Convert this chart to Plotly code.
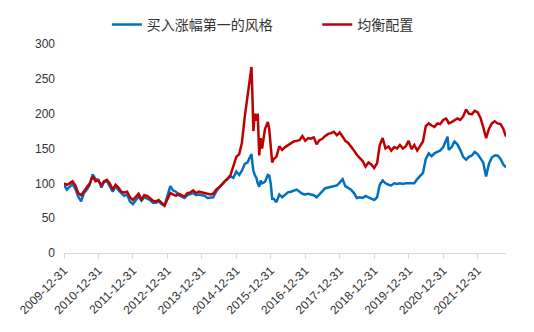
import plotly.graph_objects as go

# Month-end observation dates (with a few mid-month points through the 2015 swing)
dates = [
    "2009-12-31",
    "2010-01-31", "2010-02-28", "2010-03-31", "2010-04-30", "2010-05-31", "2010-06-30",
    "2010-07-31", "2010-08-31", "2010-09-30", "2010-10-31", "2010-11-30", "2010-12-31",
    "2011-01-31", "2011-02-28", "2011-03-31", "2011-04-30", "2011-05-31", "2011-06-30",
    "2011-07-31", "2011-08-31", "2011-09-30", "2011-10-31", "2011-11-30", "2011-12-31",
    "2012-01-31", "2012-02-29", "2012-03-31", "2012-04-30", "2012-05-31", "2012-06-30",
    "2012-07-31", "2012-08-31", "2012-09-30", "2012-10-31", "2012-11-30", "2012-12-31",
    "2013-01-31", "2013-02-28", "2013-03-31", "2013-04-30", "2013-05-31", "2013-06-30",
    "2013-07-31", "2013-08-31", "2013-09-30", "2013-10-31", "2013-11-30", "2013-12-31",
    "2014-01-31", "2014-02-28", "2014-03-31", "2014-04-30", "2014-05-31", "2014-06-30",
    "2014-07-31", "2014-08-31", "2014-09-30", "2014-10-31", "2014-11-30", "2014-12-31",
    "2015-01-31", "2015-02-28", "2015-03-31", "2015-04-30", "2015-05-15", "2015-05-31",
    "2015-06-10", "2015-06-20", "2015-06-30", "2015-07-15", "2015-07-31", "2015-08-15",
    "2015-08-31", "2015-09-15", "2015-09-30", "2015-10-31", "2015-11-30", "2015-12-15",
    "2015-12-31", "2016-01-15",
    "2016-01-31", "2016-02-29", "2016-03-31", "2016-04-30", "2016-05-31", "2016-06-30",
    "2016-07-31", "2016-08-31", "2016-09-30", "2016-10-31", "2016-11-30", "2016-12-31",
    "2017-01-31", "2017-02-28", "2017-03-31", "2017-04-30", "2017-05-31", "2017-06-30",
    "2017-07-31", "2017-08-31", "2017-09-30", "2017-10-31", "2017-11-30", "2017-12-31",
    "2018-01-31", "2018-02-28", "2018-03-31", "2018-04-30", "2018-05-31", "2018-06-30",
    "2018-07-31", "2018-08-31", "2018-09-30", "2018-10-31", "2018-11-30", "2018-12-31",
    "2019-01-31", "2019-02-28", "2019-03-31", "2019-04-30", "2019-05-31", "2019-06-30",
    "2019-07-31", "2019-08-31", "2019-09-30", "2019-10-31", "2019-11-30", "2019-12-31",
    "2020-01-31", "2020-02-29", "2020-03-31", "2020-04-30", "2020-05-31", "2020-06-30",
    "2020-07-31", "2020-08-31", "2020-09-30", "2020-10-31", "2020-11-30", "2020-12-31",
    "2021-01-31", "2021-02-15", "2021-02-28", "2021-03-31", "2021-04-30", "2021-05-31",
    "2021-06-30", "2021-07-31", "2021-08-31", "2021-09-30", "2021-10-31", "2021-11-30",
    "2021-12-31",
    "2022-01-31", "2022-02-28", "2022-03-31", "2022-04-30", "2022-05-31", "2022-06-30",
    "2022-07-31", "2022-08-31", "2022-09-30", "2022-10-28",
]

# 买入涨幅第一的风格 (net value index)
momentum_style = [
    98,
    91, 95, 99, 92, 81, 74, 86, 91, 98, 113, 106, 105,
    94, 102, 103, 96, 88, 96, 90, 86, 82, 84, 74, 70,
    76, 81, 75, 80, 78, 76, 72, 72, 74, 70, 68, 84,
    96, 90, 88, 83, 81, 79, 83, 85, 86, 83, 84, 83,
    82, 79, 80, 80, 88, 94, 98, 103, 106, 110, 108, 117,
    112, 118, 128, 130, 135, 140,
    142, 128, 118, 112, 108, 100,
    95, 104, 100, 102, 112, 111,
    100, 78,
    78, 73, 84, 80, 84, 87, 88, 89, 91, 88, 85, 84,
    85, 84, 83, 80, 84, 88, 93, 94, 95, 96, 97, 101,
    106, 96, 93, 91, 86, 79, 80, 79, 82, 80, 79, 76,
    80, 98, 104, 100, 98, 97, 100, 99, 100, 99, 100, 100,
    101, 100, 106, 110, 115, 135, 143, 139, 143, 145, 147, 152,
    162, 167, 148, 152, 160, 156, 148, 138, 134, 138, 140, 145,
    142,
    135, 130, 110, 128, 137, 140, 140, 135, 127, 123,
]

# 均衡配置 (net value index)
balanced = [
    100,
    98, 100, 103, 97, 86, 83, 89, 95, 100, 110, 103, 104,
    97, 103, 105, 100, 91, 98, 94, 88, 87, 88, 80, 76,
    80, 85, 77, 83, 82, 79, 75, 74, 76, 72, 68, 77,
    86, 84, 82, 85, 83, 81, 86, 87, 90, 86, 88, 87,
    86, 84, 84, 85, 91, 94, 98, 103, 107, 112, 126, 138,
    142, 158, 196, 225, 245, 258,
    267, 225, 175, 200, 190, 200,
    140, 165, 150, 178, 188, 178,
    150, 130,
    135, 138, 153, 148, 152, 155, 158, 160, 161, 162, 168, 161,
    165, 164, 166, 156, 162, 164, 168, 171, 172, 174, 169, 173,
    167, 161, 158, 153, 147, 141, 137, 132, 124, 130, 127, 122,
    129, 155, 165, 150, 153, 147, 152, 150, 155, 150, 153, 161,
    149, 155, 147, 154, 160, 182, 186, 183, 181, 186, 185, 191,
    193, 190, 186, 188, 190, 193, 191, 196, 206, 200, 199, 204,
    202,
    194, 181, 165, 178, 186, 189, 186, 185, 178, 167,
]

tick_dates = [f"{y}-12-31" for y in range(2009, 2022)]
tick_labels = tick_dates

fig = go.Figure()
fig.add_trace(go.Scatter(
    x=dates, y=momentum_style, mode="lines", name="买入涨幅第一的风格",
    line=dict(color="#0070C0", width=2.5), legend="legend",
))
fig.add_trace(go.Scatter(
    x=dates, y=balanced, mode="lines", name="均衡配置",
    line=dict(color="#C00000", width=2.5), legend="legend2",
))

axis_font = dict(family="Liberation Sans, Arial, sans-serif", size=12, color="#333333")
legend_style = dict(
    orientation="h", xanchor="left", yref="container", y=0.925, yanchor="middle",
    font=dict(family="Noto Sans CJK SC, sans-serif", size=14, color="#333333"),
    itemwidth=30, bgcolor="rgba(0,0,0,0)",
)

fig.update_layout(
    width=534, height=332,
    margin=dict(l=64, r=28, t=44, b=79, autoexpand=False),
    paper_bgcolor="white", plot_bgcolor="white",
    showlegend=True,
    legend=dict(x=0.097, **legend_style),
    legend2=dict(x=0.573, **legend_style),
    xaxis=dict(
        type="date",
        range=[dates[0], dates[-1]],
        tickvals=tick_dates, ticktext=tick_labels,
        tickangle=-45, tickfont=axis_font,
        ticks="outside", ticklen=5, tickcolor="#d9d9d9",
        showline=True, linecolor="#d9d9d9", linewidth=1,
        showgrid=False, zeroline=False,
    ),
    yaxis=dict(
        range=[0, 300], dtick=50, tickfont=axis_font,
        showgrid=False, zeroline=False, showline=False,
        ticks="", ticklabelstandoff=8,
    ),
)

fig.write_html("out.html")
